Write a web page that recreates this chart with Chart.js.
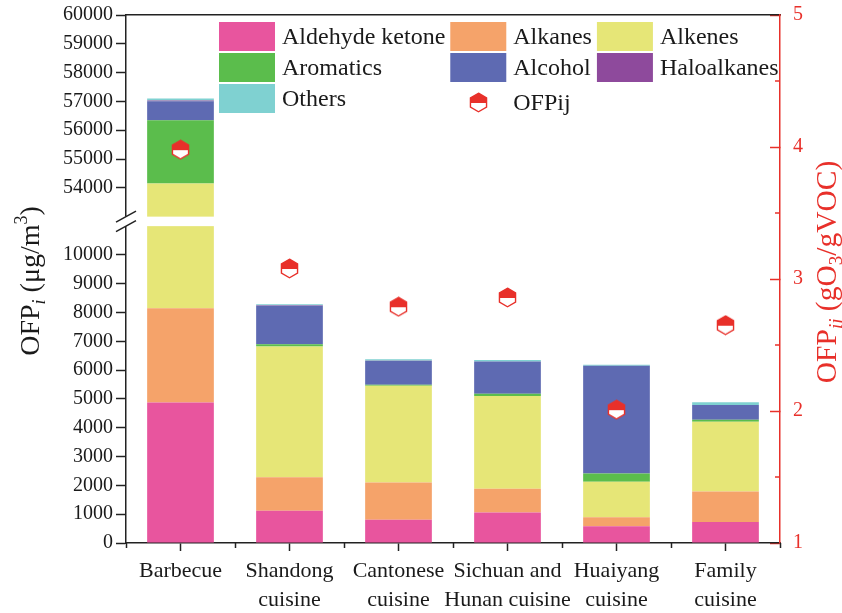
<!DOCTYPE html>
<html>
<head>
<meta charset="utf-8">
<title>OFP by cuisine</title>
<script src="https://cdn.jsdelivr.net/npm/chart.js@4/dist/chart.umd.min.js"></script>
<style>
  html, body { margin: 0; padding: 0; background: #fff; }
  #wrap { width: 842px; height: 613px; }
</style>
</head>
<body>
<div id="wrap"><canvas id="ofp-chart" width="842" height="613"></canvas></div>
<script>
const categories = ['Barbecue', ['Shandong', 'cuisine'], ['Cantonese', 'cuisine'], ['Sichuan and', 'Hunan cuisine'], ['Huaiyang', 'cuisine'], ['Family', 'cuisine']];

// OFP_i per VOC group, µg/m3
const aldehydeKetone = [4880, 1120, 810, 1060, 580, 730];
const alkanes = [3270, 1160, 1290, 820, 310, 1060];
const alkenes = [46000, 4540, 3360, 3220, 1240, 2420];
const aromatics = [2200, 80, 30, 80, 280, 70];
const alcohol = [660, 1340, 830, 1120, 3740, 510];
const haloalkanes = [20, 10, 5, 5, 5, 5];
const others = [70, 40, 55, 45, 30, 90];

// OFP_ij, gO3/gVOC
const ofpij = [3.98, 3.08, 2.79, 2.86, 2.01, 2.65];

const leftTicks = [0, 1000, 2000, 3000, 4000, 5000, 6000, 7000, 8000, 9000, 10000,
                   54000, 55000, 56000, 57000, 58000, 59000, 60000];
const rightTicks = [1, 2, 3, 4, 5];

// left axis is cut between these two values
const BREAK_LOW = 11000;
const BREAK_HIGH = 53000;
const BREAK_GAP = 330;

const SERIF = "'Liberation Serif', 'Times New Roman', serif";
const RED = '#e8302a';
const INK = '#1a1a1a';

const BaseLinear = Chart.LinearScale || Chart.registry.getScale('linear');

class BrokenLinearScale extends BaseLinear {
    squash(v) {
        if (v <= BREAK_LOW) return v;
        if (v >= BREAK_HIGH) return v - BREAK_HIGH + BREAK_LOW + BREAK_GAP;
        return BREAK_LOW + (v - BREAK_LOW) / (BREAK_HIGH - BREAK_LOW) * BREAK_GAP;
    }
    unsquash(d) {
        if (d <= BREAK_LOW) return d;
        if (d >= BREAK_LOW + BREAK_GAP) return d - BREAK_LOW - BREAK_GAP + BREAK_HIGH;
        return BREAK_LOW + (d - BREAK_LOW) / BREAK_GAP * (BREAK_HIGH - BREAK_LOW);
    }
    buildTicks() {
        this.start = this.min;
        this.end = this.max;
        return leftTicks.map(v => ({ value: v }));
    }
    configure() {
        super.configure();
        this._startValue = this.squash(this.min);
        this._endValue = this.squash(this.max);
        this._valueRange = this._endValue - this._startValue;
    }
    getPixelForValue(value) {
        if (value === null || value === undefined) return NaN;
        return this.getPixelForDecimal((this.squash(value) - this._startValue) / this._valueRange);
    }
    getValueForPixel(pixel) {
        return this.unsquash(this._startValue + this.getDecimalForPixel(pixel) * this._valueRange);
    }
}
BrokenLinearScale.id = 'brokenLinear';
BrokenLinearScale.defaults = BaseLinear.defaults;
Chart.register(BrokenLinearScale);

function makeHexMarker(r, color) {
    const w = Math.ceil(Math.sqrt(3) * r) + 2;
    const h = Math.ceil(2 * r) + 2;
    const c = document.createElement('canvas');
    c.width = w;
    c.height = h;
    const g = c.getContext('2d');
    const cx = w / 2, cy = h / 2;
    g.beginPath();
    for (let k = 0; k < 6; k++) {
        const a = -Math.PI / 2 + k * Math.PI / 3;
        const px = cx + r * Math.cos(a), py = cy + r * Math.sin(a);
        if (k === 0) g.moveTo(px, py); else g.lineTo(px, py);
    }
    g.closePath();
    g.fillStyle = '#fff';
    g.fill();
    g.save();
    g.clip();
    g.fillStyle = color;
    g.fillRect(0, 0, w, cy + 0.5);
    g.restore();
    g.strokeStyle = color;
    g.lineWidth = 1.4;
    g.stroke();
    return c;
}

const hexMarker = makeHexMarker(9.3, RED);

function drawRuns(ctx, runs, cx, cy, size, color) {
    const fontFor = (style) => {
        const s = style ? Math.round(size * 0.65) : size;
        return (style === 'isub' ? 'italic ' : '') + s + 'px ' + SERIF;
    };
    let total = 0;
    runs.forEach(([t, style]) => { ctx.font = fontFor(style); total += ctx.measureText(t).width; });
    ctx.save();
    ctx.translate(cx, cy);
    ctx.rotate(-Math.PI / 2);
    ctx.fillStyle = color;
    ctx.textBaseline = 'alphabetic';
    ctx.textAlign = 'left';
    let x = -total / 2;
    const base = size * 0.33;
    runs.forEach(([t, style]) => {
        ctx.font = fontFor(style);
        let dy = 0;
        if (style === 'sub' || style === 'isub') dy = size * 0.22;
        if (style === 'sup') dy = -size * 0.42;
        ctx.fillText(t, x, base + dy);
        x += ctx.measureText(t).width;
    });
    ctx.restore();
}

function drawLegend(chart) {
    const ctx = chart.ctx;
    const boxW = 56, boxH = 29, textGap = 7, colGap = 5, rowH = 31, left = 219, top = 22, cols = 3;
    const items = chart.data.datasets.map(ds => ({ text: ds.label, color: ds.backgroundColor, marker: ds.type === 'line' }));
    ctx.save();
    ctx.font = '24px ' + SERIF;
    const colX = [left];
    for (let c = 0; c < cols - 1; c++) {
        let w = 0;
        items.forEach((it, i) => { if (i % cols === c) w = Math.max(w, ctx.measureText(it.text).width); });
        colX.push(colX[c] + boxW + textGap + w + colGap);
    }
    ctx.textBaseline = 'middle';
    items.forEach((it, i) => {
        const x = colX[i % cols];
        let y = top + Math.floor(i / cols) * rowH;
        if (it.marker) {
            y += 4;
            ctx.drawImage(hexMarker, Math.round(x + boxW / 2 - hexMarker.width / 2), Math.round(y + boxH / 2 - hexMarker.height / 2));
        } else {
            ctx.fillStyle = it.color;
            ctx.fillRect(x, y, boxW, boxH);
        }
        ctx.fillStyle = INK;
        ctx.fillText(it.text, x + boxW + textGap, y + boxH / 2 + 1);
    });
    ctx.restore();
}

const axisBreak = {
    id: 'axisBreak',
    afterDatasetsDraw(chart) {
        const ctx = chart.ctx;
        const area = chart.chartArea;
        const yScale = chart.scales.y;
        const yTop = yScale.getPixelForValue(BREAK_HIGH);
        const yBottom = yScale.getPixelForValue(BREAK_LOW);
        ctx.save();
        ctx.fillStyle = '#fff';
        ctx.fillRect(area.left - 2, yTop, area.right - area.left, yBottom - yTop);
        ctx.strokeStyle = '#222';
        ctx.lineWidth = 1.5;
        [yTop, yBottom].forEach(y => {
            ctx.beginPath();
            ctx.moveTo(area.left - 10, y + 5.5);
            ctx.lineTo(area.left + 10, y - 5.5);
            ctx.stroke();
        });
        ctx.restore();
    }
};

const extras = {
    id: 'extras',
    afterDraw(chart) {
        const ctx = chart.ctx;
        const area = chart.chartArea;
        const n = categories.length;
        ctx.save();
        // minor ticks between categories
        ctx.strokeStyle = '#222';
        ctx.lineWidth = 1.5;
        for (let i = 0; i <= n; i++) {
            const x = Math.round(area.left + i * (area.right - area.left) / n) + 0.5;
            ctx.beginPath();
            ctx.moveTo(x, area.bottom);
            ctx.lineTo(x, area.bottom + 5);
            ctx.stroke();
        }
        // minor ticks on the right axis
        const y1 = chart.scales.y1;
        ctx.strokeStyle = RED;
        for (let i = 0; i < rightTicks.length - 1; i++) {
            const y = y1.getPixelForValue((rightTicks[i] + rightTicks[i + 1]) / 2);
            ctx.beginPath();
            ctx.moveTo(area.right, y);
            ctx.lineTo(area.right - 5, y);
            ctx.stroke();
        }
        ctx.restore();

        drawRuns(ctx, [['OFP', ''], ['i', 'isub'], [' (\u03bcg/m', ''], ['3', 'sup'], [')', '']], 30, 281, 28, INK);
        drawRuns(ctx, [['OFP', ''], ['ij', 'isub'], [' (gO', ''], ['3', 'sub'], ['/gVOC)', '']], 826, 272, 29.5, RED);
        drawLegend(chart);
    }
};

function barSet(label, data, color) {
    return {
        type: 'bar',
        label: label,
        data: data,
        backgroundColor: color,
        borderWidth: 0,
        stack: 'ofp',
        yAxisID: 'y',
        order: 1
    };
}

// y axes: keep the plot area flush with the fixed margins
function fixWidth(w) {
    return s => {
        s.width = w;
        s.paddingTop = 0;
        s.paddingBottom = 0;
    };
}

function buildChart() {
    const ctx = document.getElementById('ofp-chart').getContext('2d');
    new Chart(ctx, {
        type: 'bar',
        data: {
            labels: categories,
            datasets: [
                barSet('Aldehyde ketone', aldehydeKetone, '#e8559e'),
                barSet('Alkanes', alkanes, '#f5a36a'),
                barSet('Alkenes', alkenes, '#e6e677'),
                barSet('Aromatics', aromatics, '#5bbd4c'),
                barSet('Alcohol', alcohol, '#5e6ab2'),
                barSet('Haloalkanes', haloalkanes, '#8e4a9c'),
                barSet('Others', others, '#7fd1d1'),
                {
                    type: 'line',
                    label: 'OFPij',
                    data: ofpij,
                    yAxisID: 'y1',
                    showLine: false,
                    pointStyle: hexMarker,
                    pointRadius: 10,
                    backgroundColor: RED,
                    borderColor: RED,
                    order: 0
                }
            ]
        },
        options: {
            responsive: false,
            animation: false,
            layout: { padding: 0 },
            datasets: { bar: { categoryPercentage: 1, barPercentage: 0.612 } },
            plugins: { legend: { display: false }, tooltip: { enabled: false } },
            scales: {
                x: {
                    type: 'category',
                    position: 'bottom',
                    stacked: true,
                    offset: true,
                    grid: { display: true, drawOnChartArea: false, offset: false, tickLength: 8, tickWidth: 1.5, tickColor: '#222' },
                    border: { display: true, color: '#222', width: 1.5 },
                    ticks: { color: INK, font: { family: SERIF, size: 22, lineHeight: 1.35 }, padding: 5, maxRotation: 0, autoSkip: false },
                    afterFit: s => { s.height = 70; }
                },
                x2: {
                    type: 'category',
                    position: 'top',
                    offset: true,
                    grid: { display: false },
                    ticks: { display: false },
                    border: { display: true, color: '#222', width: 1.5 },
                    afterFit: s => { s.height = 15; }
                },
                y: {
                    type: 'brokenLinear',
                    position: 'left',
                    stacked: true,
                    min: 0,
                    max: 60000,
                    grid: { display: true, drawOnChartArea: false, tickLength: 10, tickWidth: 1.5, tickColor: '#222' },
                    border: { display: true, color: '#222', width: 1.5 },
                    ticks: { color: INK, font: { family: SERIF, size: 20 }, padding: 3, autoSkip: false, callback: v => String(v) },
                    afterFit: fixWidth(126)
                },
                y1: {
                    type: 'linear',
                    position: 'right',
                    min: 1,
                    max: 5,
                    afterBuildTicks: s => { s.ticks = rightTicks.map(v => ({ value: v })); },
                    grid: { display: true, drawOnChartArea: false, tickLength: -10, tickWidth: 1.5, tickColor: RED },
                    border: { display: true, color: RED, width: 1.5 },
                    ticks: { color: RED, font: { family: SERIF, size: 20 }, padding: 23, callback: v => String(v) },
                    afterFit: fixWidth(62)
                }
            }
        },
        plugins: [axisBreak, extras]
    });
}

document.addEventListener('DOMContentLoaded', buildChart);
</script>
</body>
</html>
